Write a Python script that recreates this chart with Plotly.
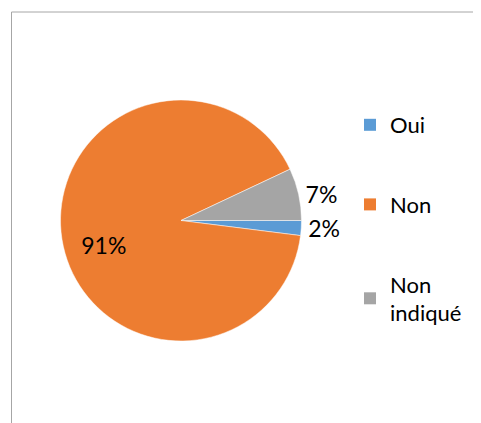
import plotly.graph_objects as go

################################################################################
# Data
################################################################################
categories = ["Oui", "Non", "Non indiqué"]
legendLabels = ["Oui", "Non", "Non<br>indiqué"]
percentages = [2, 91, 7]
sliceColors = ["#5B9BD5", "#ED7D31", "#A5A5A5"]

################################################################################
# Config
################################################################################
# the page body has an 8px margin, so the figure is drawn 8px smaller
# and all target pixel positions are shifted by that amount
pageW, pageH = 481, 423
off = 8
W, H = pageW - off, pageH - off
fontFamily = "Lato"
labelSize = 23
legendSize = 22

def px(x):
    return (x - off) / W

def py(y):
    return 1 - (y - off) / H

# label text: the big slice gets padding so it sits like the original
labelTexts = []
for cat, val in zip(categories, percentages):
    if cat == "Non":
        labelTexts.append("&nbsp;<br>%d%%&nbsp;&nbsp;&nbsp;&nbsp;&nbsp;&nbsp;" % val)
    else:
        labelTexts.append("%d%%" % val)

################################################################################
# Figure
################################################################################
fig = go.Figure()
fig.add_trace(go.Pie(
    labels=categories,
    values=percentages,
    sort=False,
    direction="clockwise",
    rotation=90,
    marker=dict(colors=sliceColors, line=dict(color="white", width=0.5)),
    text=labelTexts,
    textinfo="text",
    textposition=["outside", "inside", "outside"],
    textfont=dict(family=fontFamily, size=labelSize, color="black"),
    insidetextorientation="horizontal",
    showlegend=False,
    hoverinfo="label+percent",
    domain=dict(x=[px(60.5), px(301.5)], y=[py(341), py(100)]),
))

# legend entries (separate so the gaps can be set like the original)
for name, color in zip(legendLabels, sliceColors):
    fig.add_trace(go.Scatter(
        x=[None], y=[None], mode="markers", name=name,
        legendgroup=name,
        marker=dict(symbol="square", size=15, color=color),
    ))

fig.update_layout(
    width=W, height=H,
    margin=dict(l=0, r=0, t=0, b=0),
    paper_bgcolor="white",
    plot_bgcolor="white",
    font=dict(family=fontFamily, size=legendSize, color="black"),
    xaxis=dict(visible=False),
    yaxis=dict(visible=False),
    legend=dict(
        x=px(350), y=py(104), xanchor="left", yanchor="top",
        tracegroupgap=48, itemsizing="constant",
        font=dict(family=fontFamily, size=legendSize, color="black"),
        bgcolor="rgba(0,0,0,0)",
    ),
    shapes=[
        dict(type="line", xref="paper", yref="paper",
             x0=px(11.5), x1=px(11.5), y0=0, y1=py(12),
             line=dict(color="#A6A6A6", width=1)),
        dict(type="line", xref="paper", yref="paper",
             x0=px(11.5), x1=1, y0=py(12), y1=py(12),
             line=dict(color="#A6A6A6", width=1)),
    ],
)

fig.write_html("out.html")
